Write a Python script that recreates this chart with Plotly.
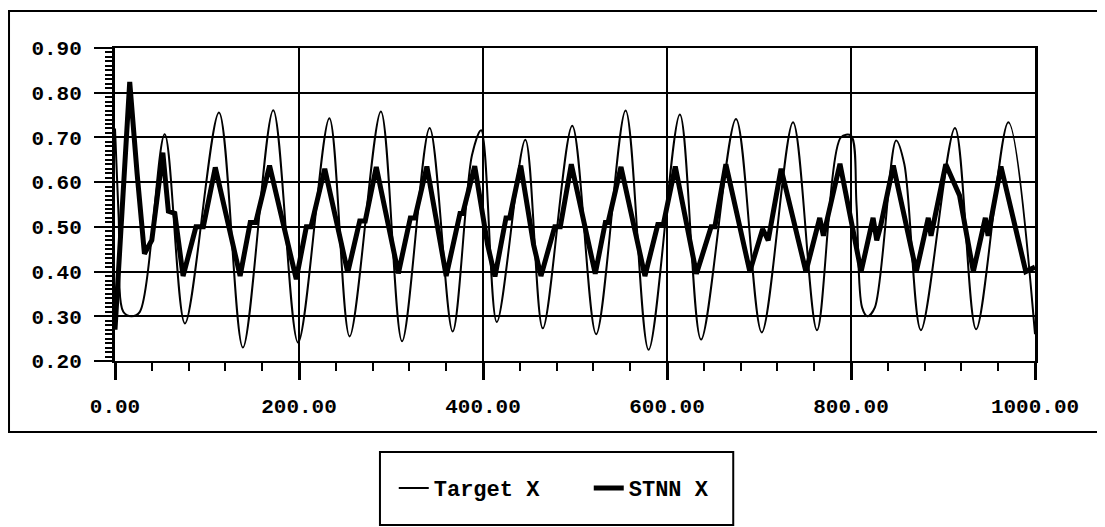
import plotly.graph_objects as go

# Target X (thin line): step, value
target_t = [0, 4, 9, 18, 27, 54, 76, 113, 139, 172, 199, 233, 255, 289, 312, 342, 367, 388, 398,
            415, 446, 465, 497, 523, 555, 580, 614, 637, 675, 703, 737, 763, 789, 800, 806, 812,
            818, 826, 849, 858, 876, 913, 936, 971, 1000]
target_v = [0.72, 0.52, 0.31, 0.30, 0.31, 0.707, 0.284, 0.756, 0.23, 0.761, 0.241, 0.743, 0.255,
            0.758, 0.244, 0.721, 0.266, 0.66, 0.716, 0.287, 0.695, 0.273, 0.726, 0.26, 0.76, 0.225,
            0.751, 0.248, 0.741, 0.264, 0.734, 0.269, 0.70, 0.704, 0.55, 0.32, 0.30, 0.32, 0.693,
            0.64, 0.269, 0.721, 0.271, 0.734, 0.26]

# STNN X (thick line)
stnn_t = [0, 16, 24, 32, 40, 52, 58, 65, 74, 88, 96, 109, 136, 147, 153, 168, 197, 208, 213, 228,
          253, 266, 272, 284, 308, 321, 326, 339, 360, 375, 378, 391, 405, 413, 425, 429, 441, 455,
          463, 478, 484, 496, 522, 533, 536, 550, 576, 590, 596, 609, 632, 648, 652, 664, 690, 704,
          710, 724, 751, 762, 766, 770, 788, 811, 824, 828, 832, 846, 871, 884, 887, 903, 918, 933,
          946, 949, 963, 990, 1000]
stnn_v = [0.27, 0.824, 0.62, 0.44, 0.47, 0.666, 0.535, 0.53, 0.39, 0.50, 0.50, 0.633, 0.39, 0.51,
          0.51, 0.637, 0.383, 0.50, 0.50, 0.630, 0.398, 0.513, 0.513, 0.634, 0.396, 0.52, 0.52,
          0.635, 0.39, 0.53, 0.53, 0.636, 0.46, 0.389, 0.52, 0.52, 0.637, 0.46, 0.39, 0.50, 0.50,
          0.64, 0.395, 0.51, 0.51, 0.634, 0.39, 0.505, 0.505, 0.635, 0.395, 0.50, 0.50, 0.64, 0.40,
          0.495, 0.47, 0.63, 0.40, 0.49, 0.52, 0.48, 0.641, 0.40, 0.52, 0.47, 0.50, 0.637, 0.40,
          0.52, 0.48, 0.64, 0.57, 0.40, 0.52, 0.48, 0.635, 0.40, 0.41]

x_ticks = [0, 200, 400, 600, 800, 1000]
y_ticks = [0.2, 0.3, 0.4, 0.5, 0.6, 0.7, 0.8, 0.9]

FONT = "Liberation Mono"

fig = go.Figure()
fig.add_trace(go.Scatter(x=target_t, y=target_v, name="Target X", mode="lines",
                         line=dict(color="black", width=2, shape="spline", smoothing=0.9)))
fig.add_trace(go.Scatter(x=stnn_t, y=stnn_v, name="STNN X", mode="lines",
                         line=dict(color="black", width=5)))

# page body has an 8px margin, so the figure is offset by 8px
fig.update_layout(
    width=1097, height=519,
    margin=dict(l=107, r=70, t=40, b=166),
    paper_bgcolor="white", plot_bgcolor="white",
    font=dict(family=FONT, color="black", size=21),
    showlegend=True,
    legend=dict(orientation="h", x=0.303, y=-0.406, xanchor="left", yanchor="middle",
                bgcolor="rgba(0,0,0,0)", borderwidth=0,
                font=dict(family=FONT, size=22, color="black", weight="bold"),
                itemwidth=30, entrywidth=150, entrywidthmode="pixels"),
)

fig.update_xaxes(
    range=[0, 1000], tickvals=x_ticks, tickformat=".2f",
    showgrid=True, gridcolor="black", gridwidth=2,
    showline=True, linecolor="black", linewidth=2, mirror=True,
    ticks="outside", ticklen=17, tickwidth=3, tickcolor="black",
    ticklabelstandoff=8,
    tickfont=dict(family=FONT, size=21, color="black", weight="bold"),
    minor=dict(dtick=40, ticks="outside", ticklen=8, tickwidth=2, tickcolor="black", showgrid=False),
    zeroline=False,
)
fig.update_yaxes(
    range=[0.2, 0.9], tickvals=y_ticks, tickformat=".2f",
    showgrid=True, gridcolor="black", gridwidth=2,
    showline=True, linecolor="black", linewidth=3, mirror=True,
    ticks="outside", ticklen=18, tickwidth=2, tickcolor="black",
    ticklabelstandoff=8,
    tickfont=dict(family=FONT, size=21, color="black", weight="bold"),
    minor=dict(dtick=0.01, ticks="outside", ticklen=7, tickwidth=2, tickcolor="black", showgrid=False),
    zeroline=False,
)

# outer frame and legend frame
fig.add_shape(type="rect", xref="paper", yref="paper", x0=-0.1152, x1=1.0707, y0=-0.227, y1=1.118,
              line=dict(color="black", width=2), fillcolor="rgba(0,0,0,0)", layer="below")
fig.add_shape(type="rect", xref="paper", yref="paper", x0=0.288, x1=0.672, y0=-0.524, y1=-0.291,
              line=dict(color="black", width=2), fillcolor="rgba(0,0,0,0)", layer="below")

fig.write_html("out.html")
